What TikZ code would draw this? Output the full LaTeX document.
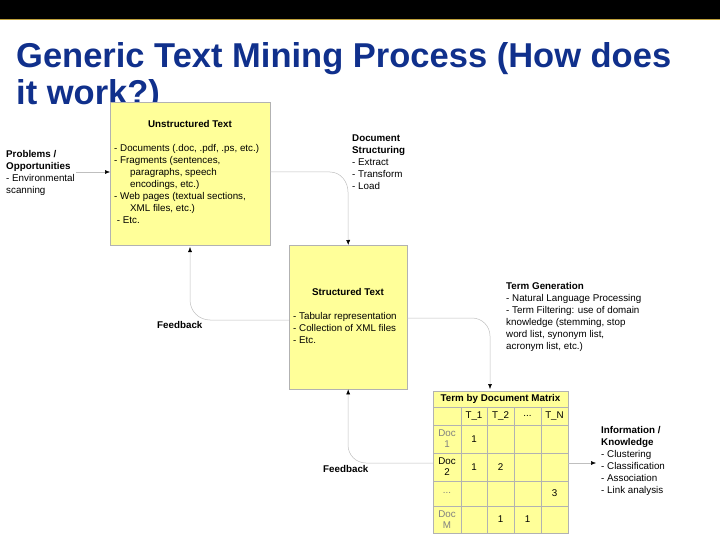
\documentclass[tikz,border=0pt]{standalone}
\usepackage{fontspec}
\setmainfont{Liberation Sans}
\usetikzlibrary{arrows.meta}
\definecolor{ttl}{RGB}{16,48,140}
\definecolor{pad}{RGB}{255,255,153}
\definecolor{gold}{RGB}{190,160,60}
\begin{document}
\begin{tikzpicture}[x=1pt,y=-1pt,
  box/.style={draw=gray!60,fill=pad,inner sep=0},
  lbl/.style={anchor=north west,align=left,font=\fontsize{9.8}{12}\selectfont,inner sep=0},
  con/.style={draw=gray!50,line width=0.5pt,-{Latex[length=5pt,width=4pt,black]}},
  cell/.style={font=\fontsize{9.8}{11}\selectfont,align=center,inner sep=0}]
\useasboundingbox (0,0) rectangle (720,540);
\fill[black] (0,0) rectangle (720,19);
\draw[gold,line width=1pt] (0,20) -- (720,20);
\node[anchor=north west,inner sep=0,text=ttl,align=left,font=\fontsize{34.5}{37}\selectfont\bfseries] (title) at (16,42) {Generic Text Mining Process (How does\\it work?)};
% boxes
\node[box,minimum width=160,minimum height=143,anchor=north west] (b1) at (110,102) {};
\node[lbl,anchor=north] (b1t) at (190,120) {\bfseries Unstructured Text};
\node[lbl] (b1b) at (114,144) {- Documents (.doc, .pdf, .ps, etc.)\\- Fragments (sentences,\\\hspace{16pt}paragraphs, speech\\\hspace{16pt}encodings, etc.)\\- Web pages (textual sections,\\\hspace{16pt}XML files, etc.)\\\ - Etc.};
\node[box,minimum width=118,minimum height=144,anchor=north west] (b2) at (289,245) {};
\node[lbl,anchor=north] (b2t) at (348,288) {\bfseries Structured Text};
\node[lbl] (b2b) at (293,312) {- Tabular representation\\- Collection of XML files\\- Etc.};
% matrix
\node[box,minimum width=135,minimum height=142,anchor=north west] (m) at (433,391) {};
\foreach \y in {407,425,453,481,506} \draw[gray!60] (433,\y) -- (568,\y);
\foreach \x in {461,487,514,541} \draw[gray!60] (\x,407) -- (\x,533);
\node[cell,font=\fontsize{9.8}{11}\selectfont\bfseries] (mt) at (500.5,399) {Term by Document Matrix};
\node[cell] (h1) at (474,416) {T\_1};
\node[cell] (h2) at (500.5,416) {T\_2};
\node[cell] (h3) at (527.5,416) {...};
\node[cell] (h4) at (554.5,416) {T\_N};
\node[cell,text=gray] (r1) at (447,439) {Doc\\1};
\node[cell] (r2) at (447,467) {Doc\\2};
\node[cell,text=gray] (r3) at (447,493) {...};
\node[cell,text=gray] (r4) at (447,519.5) {Doc\\M};
\node[cell] (c11) at (474,439) {1};
\node[cell] (c21) at (474,467) {1};
\node[cell] (c22) at (500.5,467) {2};
\node[cell] (c3n) at (554.5,493) {3};
\node[cell] (c42) at (500.5,519.5) {1};
\node[cell] (c43) at (527.5,519.5) {1};
% labels
\node[lbl] (prob) at (6,150) {\bfseries Problems /\\\bfseries Opportunities\\- Environmental\\scanning};
\node[lbl] (ds) at (352,135) {\bfseries Document\\\bfseries Structuring\\- Extract\\- Transform\\- Load};
\node[lbl] (tg) at (506,282) {\bfseries Term Generation\\- Natural Language Processing\\- Term Filtering: use of domain\\knowledge (stemming, stop\\word list, synonym list,\\acronym list, etc.)};
\node[lbl] (ik) at (601,426) {\bfseries Information /\\\bfseries Knowledge\\- Clustering\\- Classification\\- Association\\- Link analysis};
\node[lbl,font=\fontsize{9.8}{12}\selectfont\bfseries] (fb1) at (157,321) {Feedback};
\node[lbl,font=\fontsize{9.8}{12}\selectfont\bfseries] (fb2) at (323,465) {Feedback};
% connectors
\coordinate (p0) at (76,172);
\draw[con] (p0) -- (b1.west|-p0);
\draw[con] (270,172) -- (330,172) to[out=0,in=90] (348,192) -- (b2.north);
\draw[con] (b2.west|-0,320) -- (210,320) to[out=180,in=-90] (190,300) -- (190,247);
\draw[con] (b2.east|-0,318) -- (472,318) to[out=0,in=90] (490,336) -- (490,389);
\draw[con] (m.west|-0,463) -- (366,463) to[out=180,in=-90] (348,445) -- (b2.south);
\coordinate (ie) at (596,463);
\draw[con] (m.east|-ie) -- (ie);
\end{tikzpicture}
\end{document}
